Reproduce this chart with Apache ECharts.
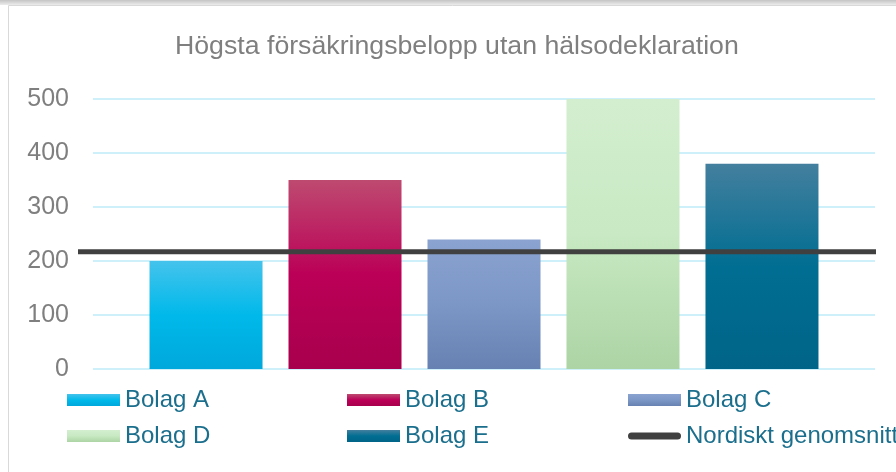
<!DOCTYPE html>
<html>
<head>
<meta charset="utf-8">
<title>Högsta försäkringsbelopp utan hälsodeklaration</title>
<script src="https://cdn.jsdelivr.net/npm/echarts@6/dist/echarts.min.js"></script>
<style>
  html, body { margin: 0; padding: 0; background: #fff; }
  #chartMount { width: 896px; height: 472px; }
</style>
</head>
<body>
<div id="chartMount"></div>
<script>
  // data
  var companies = ['Bolag A', 'Bolag B', 'Bolag C', 'Bolag D', 'Bolag E'];
  var amounts = [200, 350, 240, 500, 380];
  var avgName = 'Nordiskt genomsnitt';
  var avgValues = [217, 217];
  var yTicks = [0, 100, 200, 300, 400, 500];

  // top, middle, bottom of each bar gradient
  var barColors = [
    ['#44c3ec', '#00b9ea', '#00a8dc'],
    ['#be4a70', '#bb0057', '#a8004d'],
    ['#8aa3d0', '#7c96c6', '#6781b2'],
    ['#d3eecf', '#c8e9c3', '#acd4a4'],
    ['#447f9e', '#006e92', '#006488']
  ];

  var app = echarts.init(document.getElementById('chartMount'));
  var font = "'Liberation Sans', Arial, sans-serif";

  var series = companies.map(function (name, i) {
    var c = barColors[i];
    return {
      name: name,
      type: 'bar',
      xAxisIndex: 0,
      yAxisIndex: 0,
      barWidth: 113,
      barGap: '23%',
      data: [amounts[i]],
      itemStyle: {
        color: new echarts.graphic.LinearGradient(0, 0, 0, 1, [
          { offset: 0, color: c[0] },
          { offset: 0.5, color: c[1] },
          { offset: 1, color: c[2] }
        ])
      }
    };
  });

  // average line sits on a second, slightly wider grid
  series.push({
    name: avgName,
    type: 'line',
    xAxisIndex: 1,
    yAxisIndex: 1,
    data: avgValues,
    symbol: 'none',
    z: 5,
    lineStyle: { color: '#404040', width: 5 },
    itemStyle: { color: '#404040' }
  });

  var legendText = { color: '#1b6f8d', fontSize: 24, fontFamily: font, lineHeight: 24 };
  var lineIcon = 'path://M3.5,0 H49.5 A3.5,3.5 0 0 1 49.5,7 H3.5 A3.5,3.5 0 0 1 3.5,0 Z';
  function legendCol(left, names) {
    return {
      orient: 'vertical',
      left: left,
      top: 388,
      padding: 0,
      itemWidth: 53,
      itemHeight: 12,
      itemGap: 12,
      icon: 'rect',
      selectedMode: false,
      textStyle: legendText,
      data: names
    };
  }

  var option = {
    animation: false,
    textStyle: { fontFamily: font },
    title: {
      text: 'Högsta försäkringsbelopp utan hälsodeklaration',
      left: 170,
      top: 28,
      textStyle: { color: '#7f7f7f', fontSize: 26.7, fontWeight: 'normal', fontFamily: font }
    },
    legend: [
      legendCol(67, ['Bolag A', 'Bolag D']),
      legendCol(347, ['Bolag B', 'Bolag E']),
      legendCol(628, ['Bolag C', { name: avgName, icon: lineIcon }])
    ],
    grid: [
      { left: 93, right: 21, top: 99, bottom: 103 },
      { left: 78, right: 20, top: 99, bottom: 103 }
    ],
    xAxis: [
      {
        type: 'category',
        gridIndex: 0,
        data: ['Bolag'],
        axisLine: { show: false },
        axisTick: { show: false },
        axisLabel: { show: false }
      },
      {
        type: 'category',
        gridIndex: 1,
        boundaryGap: false,
        data: ['', ''],
        show: false
      }
    ],
    yAxis: [
      {
        type: 'value',
        gridIndex: 0,
        min: yTicks[0],
        max: yTicks[yTicks.length - 1],
        interval: 100,
        axisLine: { show: false },
        axisTick: { show: false },
        axisLabel: { color: '#7f7f7f', fontSize: 25, margin: 24, fontFamily: font },
        splitLine: { lineStyle: { color: '#cdf0fb', width: 2 } }
      },
      {
        type: 'value',
        gridIndex: 1,
        min: yTicks[0],
        max: yTicks[yTicks.length - 1],
        show: false,
        splitLine: { show: false }
      }
    ],
    graphic: [
      {
        type: 'rect',
        shape: { x: 0, y: 0, width: 896, height: 5 },
        style: {
          fill: new echarts.graphic.LinearGradient(0, 0, 0, 1, [
            { offset: 0, color: '#c4c4c4' },
            { offset: 1, color: '#ececec' }
          ])
        },
        silent: true
      },
      {
        type: 'rect',
        shape: { x: 8.5, y: 5.5, width: 900, height: 480 },
        style: { fill: 'none', stroke: '#d9d9d9', lineWidth: 1 },
        silent: true
      }
    ],
    series: series
  };

  app.setOption(option);
</script>
</body>
</html>
